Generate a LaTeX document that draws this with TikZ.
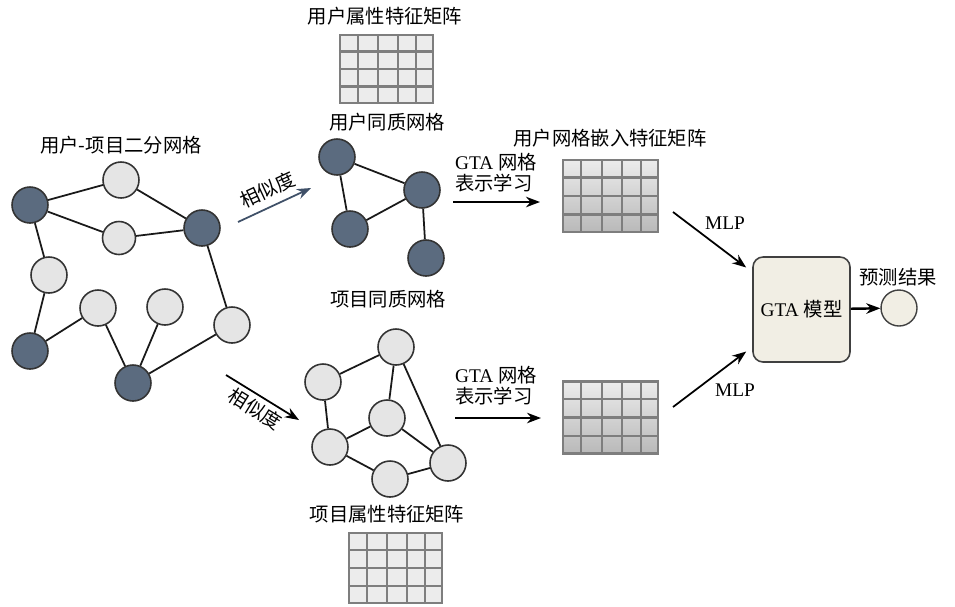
\documentclass[tikz,border=0pt]{standalone}
\usepackage{fontspec}
\setmainfont{Liberation Serif}
\newfontfamily\cjk{Noto Sans CJK SC}
\usetikzlibrary{arrows.meta,calc}

\definecolor{slate}{HTML}{5B6B7F}
\definecolor{simblue}{HTML}{3F5068}
\definecolor{gridline}{HTML}{7E7E7E}
\definecolor{beige}{HTML}{F1EEE4}

% grid lines inside a matrix node
\newcommand{\matgrid}[1]{%
  \foreach \f in {0.2,0.41,0.62,0.81}
    \draw[gridline, line width=1.3pt] ($(#1.south west)!\f!(#1.south east)$) -- ($(#1.north west)!\f!(#1.north east)$);
  \foreach \f in {0.25,0.5,0.75}
    \draw[gridline, line width=1.3pt] ($(#1.south west)!\f!(#1.north west)$) -- ($(#1.south east)!\f!(#1.north east)$);
}

\begin{document}
\begin{tikzpicture}[x=0.02cm, y=-0.02cm,
    dark/.style={circle, draw=black!80, line width=0.9pt, fill=slate, minimum size=0.72cm, inner sep=0pt},
    light/.style={dark, fill=gray!20},
    edge/.style={line width=1pt, black!90},
    arr/.style={line width=1pt, -{Stealth[length=8pt,width=6pt]}},
    lbl/.style={font=\cjk\fontsize{11}{13}\selectfont, inner sep=0pt},
    gta/.style={font=\fontsize{11}{12}\selectfont, inner sep=0pt, align=left},
    featmat/.style={draw=gridline, line width=1.3pt, fill=gray!15, minimum width=1.86cm, minimum height=1.36cm, inner sep=0pt},
    embmat/.style={featmat, top color=gray!15, bottom color=gray!55, minimum width=1.9cm, minimum height=1.44cm}
  ]
  \useasboundingbox (0,0) rectangle (955,606);

  % Nodes: user-item bipartite graph
  \node[lbl] (bilbl) at (121,145) {用户-项目二分网格};
  \node[dark] (bu1) at (30,205) {};
  \node[dark] (bu2) at (202,228) {};
  \node[dark] (bu3) at (30,351) {};
  \node[dark] (bu4) at (133,383) {};
  \node[light] (bi1) at (121,180) {};
  \node[light, minimum size=0.66cm] (bi2) at (119,238) {};
  \node[light] (bi3) at (49,275) {};
  \node[light] (bi4) at (98,308) {};
  \node[light] (bi5) at (165,307) {};
  \node[light] (bi6) at (232,325) {};

  % Nodes: user homogeneous graph
  \node[lbl] (uattrlbl) at (385,16) {用户属性特征矩阵};
  \node[featmat] (uattr) at (386.5,69) {};
  \node[lbl] (uulbl) at (387,122) {用户同质网格};
  \node[dark] (uu1) at (337,157) {};
  \node[dark] (uu2) at (422,190) {};
  \node[dark] (uu3) at (350,229) {};
  \node[dark] (uu4) at (426,258) {};

  % Nodes: item homogeneous graph
  \node[lbl] (iilbl) at (388,299) {项目同质网格};
  \node[light] (ii1) at (396,347) {};
  \node[light] (ii2) at (323,382) {};
  \node[light] (ii3) at (387,418) {};
  \node[light] (ii4) at (330,447) {};
  \node[light] (ii5) at (448,463) {};
  \node[light] (ii6) at (390,479) {};
  \node[lbl] (iattrlbl) at (387,514) {项目属性特征矩阵};
  \node[featmat, minimum height=1.4cm] (iattr) at (395.5,568) {};

  % Nodes: embeddings and model
  \node[lbl] (uemblbl) at (610,138) {用户网格嵌入特征矩阵};
  \node[embmat] (uemb) at (610.5,196) {};
  \node[embmat] (iemb) at (610.5,417.5) {};
  \node[gta] (ugta) at (496,173) {GTA {\cjk 网格}\\{\cjk 表示学习}};
  \node[gta] (igta) at (496,386) {GTA {\cjk 网格}\\{\cjk 表示学习}};
  \node[draw=black!75, line width=0.9pt, fill=beige, rounded corners=0.2cm, minimum width=1.94cm, minimum height=2.1cm,
        font=\fontsize{11}{13}\selectfont] (model) at (801.5,309.5) {GTA {\cjk 模型}};
  \node[circle, draw=black!75, line width=0.8pt, fill=beige, minimum size=0.72cm, inner sep=0pt] (pred) at (899,308) {};
  \node[lbl] (predlbl) at (898,277) {预测结果};
  \node[gta] (mlpa) at (725,223) {MLP};
  \node[gta] (mlpb) at (735,390) {MLP};

  % Grids
  \matgrid{uattr}
  \matgrid{iattr}
  \matgrid{uemb}
  \matgrid{iemb}

  % Free ends of arrows
  \coordinate (sima) at (238,222);
  \coordinate (simaend) at (311,188);
  \coordinate (simb) at (226,375);
  \coordinate (simbend) at (299,420);
  \coordinate (ugtas) at (453,202);
  \coordinate (ugtae) at (540,202);
  \coordinate (igtas) at (455,418);
  \coordinate (igtae) at (541,418);
  \coordinate (mlpas) at (673,212);
  \coordinate (mlpbs) at (673,407);

  % Edges
  \draw[edge] (bu1) -- (bi1);
  \draw[edge] (bu1) -- (bi2);
  \draw[edge] (bi1) -- (bu2);
  \draw[edge] (bi2) -- (bu2);
  \draw[edge] (bu1) -- (bi3);
  \draw[edge] (bi3) -- (bu3);
  \draw[edge] (bu3) -- (bi4);
  \draw[edge] (bi4) -- (bu4);
  \draw[edge] (bi5) -- (bu4);
  \draw[edge] (bu4) -- (bi6);
  \draw[edge] (bu2) -- (bi6);

  \draw[edge] (uu1) -- (uu2);
  \draw[edge] (uu1) -- (uu3);
  \draw[edge] (uu3) -- (uu2);
  \draw[edge] (uu2) -- (uu4);

  \draw[edge] (ii1) -- (ii2);
  \draw[edge] (ii1) -- (ii3);
  \draw[edge] (ii1) -- (ii5);
  \draw[edge] (ii2) -- (ii4);
  \draw[edge] (ii3) -- (ii4);
  \draw[edge] (ii3) -- (ii5);
  \draw[edge] (ii4) -- (ii6);
  \draw[edge] (ii6) -- (ii5);

  % Arrows
  \draw[arr, simblue] (sima) -- node[lbl, sloped, above=4pt, text=black] {相似度} (simaend);
  \draw[arr] (simb) -- node[lbl, sloped, below=2pt] {相似度} (simbend);
  \draw[arr] (ugtas) -- (ugtae);
  \draw[arr] (igtas) -- (igtae);
  \draw[arr] (mlpas) -- ([shift={(-6,-42)}]model.west);
  \draw[arr] (mlpbs) -- ([shift={(-6,42)}]model.west);
  \draw[arr, line width=1.4pt] (model) -- (pred);
\end{tikzpicture}
\end{document}
